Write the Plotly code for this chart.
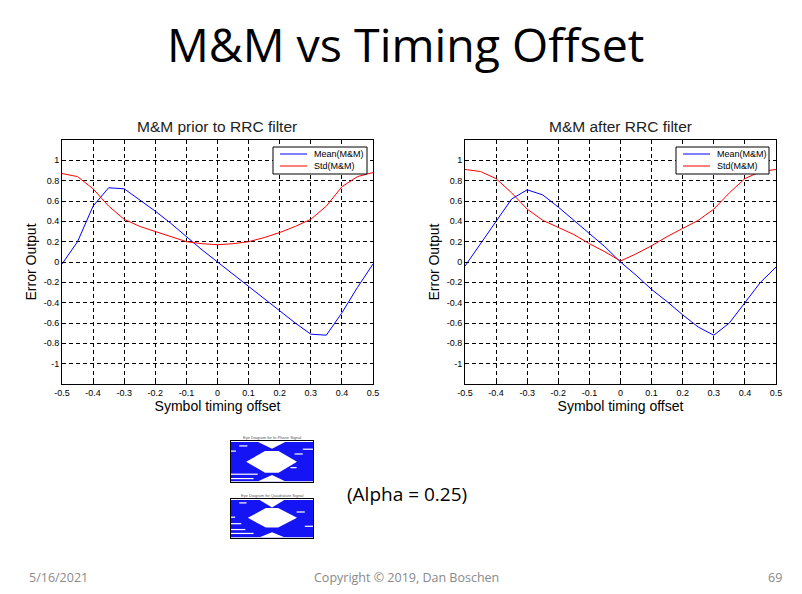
import plotly.graph_objects as go

W, H = 802, 594

# ---------------- data ----------------
offset = [-0.5, -0.45, -0.4, -0.35, -0.3, -0.25, -0.2, -0.15, -0.1, -0.05, 0.0,
          0.05, 0.1, 0.15, 0.2, 0.25, 0.3, 0.35, 0.4, 0.45, 0.5]

mean_prior = [-0.02, 0.2, 0.55, 0.73, 0.72, 0.61, 0.5, 0.38, 0.25, 0.12, 0.0,
              -0.12, -0.24, -0.36, -0.48, -0.6, -0.71, -0.72, -0.5, -0.25, -0.02]
std_prior = [0.87, 0.84, 0.72, 0.55, 0.42, 0.35, 0.3, 0.25, 0.2, 0.18, 0.17,
             0.18, 0.2, 0.24, 0.29, 0.35, 0.42, 0.55, 0.74, 0.84, 0.88]

mean_after = [-0.04, 0.18, 0.4, 0.62, 0.71, 0.66, 0.54, 0.41, 0.28, 0.15, 0.0,
              -0.13, -0.27, -0.39, -0.52, -0.64, -0.72, -0.6, -0.4, -0.2, -0.05]
std_after = [0.91, 0.89, 0.82, 0.68, 0.52, 0.41, 0.34, 0.27, 0.18, 0.1, 0.01,
             0.08, 0.16, 0.25, 0.33, 0.41, 0.52, 0.68, 0.82, 0.89, 0.91]

series_names = ["Mean(M&M)", "Std(M&M)"]

x_ticks = [-0.5, -0.4, -0.3, -0.2, -0.1, 0, 0.1, 0.2, 0.3, 0.4, 0.5]
x_tick_labels = ["-0.5", "-0.4", "-0.3", "-0.2", "-0.1", "0", "0.1", "0.2", "0.3", "0.4", "0.5"]
y_ticks = [-1, -0.8, -0.6, -0.4, -0.2, 0, 0.2, 0.4, 0.6, 0.8, 1]
y_tick_labels = ["-1", "-0.8", "-0.6", "-0.4", "-0.2", "0", "0.2", "0.4", "0.6", "0.8", "1"]

# eye diagram outlines (time -1..1, amplitude -1.5..1.5)
eye_box_x = [-1, 1, 1, -1, -1]
eye_box_y = [-1.45, -1.45, 1.42, 1.42, -1.45]
eye1_open_x = [-0.63, -0.17, 0.16, 0.61, 0.16, -0.17, -0.63]
eye1_open_y = [-0.01, 0.76, 0.76, -0.01, -0.83, -0.83, -0.01]
eye1_top_x = [-0.34, 0.32, 0.0, -0.34]
eye1_top_y = [1.42, 1.42, 0.94, 1.42]
eye1_bot_x = [-0.34, 0.32, 0.0, -0.34]
eye1_bot_y = [-1.45, -1.45, -0.99, -1.45]
eye1_gap_x0 = [-0.8, -1.0, -1.0, -1.0, 0.55, 0.75, 0.45]
eye1_gap_x1 = [-0.6, -0.88, -0.35, -0.45, 0.75, 1.0, 0.6]
eye1_gap_y = [1.14, 0.76, -0.93, -1.25, 0.55, 0.9, -0.45]

eye2_open_x = [-0.59, -0.15, 0.15, 0.61, 0.15, -0.15, -0.59]
eye2_open_y = [0.05, 0.8, 0.8, 0.05, -0.7, -0.7, 0.05]
eye2_top_x = [-0.3, 0.3, 0.0, -0.3]
eye2_top_y = [1.42, 1.42, 0.85, 1.42]
eye2_bot_x = [-0.3, 0.3, 0.0, -0.3]
eye2_bot_y = [-1.45, -1.45, -1.05, -1.45]
eye2_gap_x0 = [-0.8, -1.0, -1.0, -1.0, -1.0, 0.6, 0.8]
eye2_gap_x1 = [-0.62, -0.9, -0.75, -0.65, -0.45, 0.8, 1.0]
eye2_gap_y = [1.2, 0.1, -0.4, -0.85, -1.15, 0.5, -0.6]

BLUE = "#0000FF"
RED = "#FF0000"
EYE_BLUE = "#1414F5"

fig = go.Figure()

# main plots
for xa, ya, m, s in [("x", "y", mean_prior, std_prior), ("x2", "y2", mean_after, std_after)]:
    fig.add_trace(go.Scatter(x=offset, y=m, mode="lines", name=series_names[0],
                             line=dict(color=BLUE, width=1), xaxis=xa, yaxis=ya, showlegend=False))
    fig.add_trace(go.Scatter(x=offset, y=s, mode="lines", name=series_names[1],
                             line=dict(color=RED, width=1), xaxis=xa, yaxis=ya, showlegend=False))

# eye diagrams
for xa, ya, ox, oy, tx, ty, bx, by, gx0, gx1, gy in [
    ("x3", "y3", eye1_open_x, eye1_open_y, eye1_top_x, eye1_top_y, eye1_bot_x, eye1_bot_y,
     eye1_gap_x0, eye1_gap_x1, eye1_gap_y),
    ("x4", "y4", eye2_open_x, eye2_open_y, eye2_top_x, eye2_top_y, eye2_bot_x, eye2_bot_y,
     eye2_gap_x0, eye2_gap_x1, eye2_gap_y),
]:
    fig.add_trace(go.Scatter(x=eye_box_x, y=eye_box_y, fill="toself", fillcolor=EYE_BLUE,
                             mode="lines", line=dict(width=0, color=EYE_BLUE),
                             xaxis=xa, yaxis=ya, showlegend=False, hoverinfo="skip"))
    for px, py in [(ox, oy), (tx, ty), (bx, by)]:
        fig.add_trace(go.Scatter(x=px, y=py, fill="toself", fillcolor="white",
                                 mode="lines", line=dict(width=0, color="white"),
                                 xaxis=xa, yaxis=ya, showlegend=False, hoverinfo="skip"))
    segx, segy = [], []
    for a, b, c in zip(gx0, gx1, gy):
        segx += [a, b, None]
        segy += [c, c, None]
    fig.add_trace(go.Scatter(x=segx, y=segy, mode="lines", line=dict(width=1.2, color="white"),
                             xaxis=xa, yaxis=ya, showlegend=False, hoverinfo="skip"))


def px2x(p):
    return p / W


def px2y(p):
    return 1 - p / H


main_axis_common = dict(
    showline=True, linecolor="black", linewidth=1, mirror=True,
    ticks="inside", ticklen=4, tickcolor="black",
    showgrid=True, gridcolor="black", gridwidth=1, griddash="4px,3px",
    zeroline=False, tickfont=dict(family="Arial", size=9, color="black"),
    fixedrange=True, automargin=False,
)

xcommon = dict(main_axis_common, range=[-0.5, 0.5], tickmode="array",
               tickvals=x_ticks, ticktext=x_tick_labels,
               title=dict(text="Symbol timing offset",
                          font=dict(family="Arial", size=14, color="black"), standoff=2))
ycommon = dict(main_axis_common, range=[-1.2, 1.2], tickmode="array",
               tickvals=y_ticks, ticktext=y_tick_labels,
               title=dict(text="Error Output",
                          font=dict(family="Arial", size=14, color="black"), standoff=3))

yd = [px2y(384), px2y(140)]

eye_axis = dict(showline=True, linecolor="black", linewidth=1, mirror=True,
                showgrid=False, zeroline=False, showticklabels=False,
                ticks="", fixedrange=True, automargin=False)

fig.update_layout(
    width=W, height=H,
    margin=dict(l=0, r=0, t=0, b=0, pad=0, autoexpand=False),
    paper_bgcolor="white", plot_bgcolor="white",
    xaxis=dict(xcommon, domain=[px2x(62), px2x(373)], anchor="y"),
    yaxis=dict(ycommon, domain=yd, anchor="x"),
    xaxis2=dict(xcommon, domain=[px2x(465), px2x(776)], anchor="y2"),
    yaxis2=dict(ycommon, domain=yd, anchor="x2"),
    xaxis3=dict(eye_axis, domain=[px2x(231), px2x(313)], anchor="y3", range=[-1, 1]),
    yaxis3=dict(eye_axis, domain=[px2y(482), px2y(441)], anchor="x3", range=[-1.5, 1.5]),
    xaxis4=dict(eye_axis, domain=[px2x(231), px2x(313)], anchor="y4", range=[-1, 1]),
    yaxis4=dict(eye_axis, domain=[px2y(538), px2y(499)], anchor="x4", range=[-1.5, 1.5]),
    showlegend=False,
)

# manual legends (box + sample lines) in paper coordinates
shapes = []
annotations = []
for bx0, bx1 in [(273, 367), (676, 769)]:
    shapes.append(dict(type="rect", xref="paper", yref="paper",
                       x0=px2x(bx0), x1=px2x(bx1), y0=px2y(174), y1=px2y(147),
                       line=dict(color="black", width=1), fillcolor="white", layer="above"))
    for row_y, col, name in [(154, BLUE, series_names[0]), (166, RED, series_names[1])]:
        shapes.append(dict(type="line", xref="paper", yref="paper",
                           x0=px2x(bx0 + 7), x1=px2x(bx0 + 34), y0=px2y(row_y), y1=px2y(row_y),
                           line=dict(color=col, width=1), layer="above"))
        annotations.append(dict(text=name, x=px2x(bx0 + 39), y=px2y(row_y), xref="paper", yref="paper",
                                showarrow=False, xanchor="left", yanchor="middle",
                                font=dict(family="Arial", size=9, color="black")))

ann = [
    dict(text="M&M vs Timing Offset", x=px2x(405), y=px2y(44), font=dict(family="Open Sans", size=46.5, color="black")),
    dict(text="M&M prior to RRC filter", x=px2x(217), y=px2y(126), font=dict(family="Arial", size=15.5, color="#222222")),
    dict(text="M&M after RRC filter", x=px2x(620), y=px2y(126), font=dict(family="Arial", size=15.5, color="#222222")),
    dict(text="(Alpha = 0.25)", x=px2x(407), y=px2y(494), font=dict(family="Open Sans", size=19, color="black")),
    dict(text="Copyright © 2019, Dan Boschen", x=px2x(406), y=px2y(577), font=dict(family="Open Sans", size=12.5, color="#898989")),
    dict(text="Eye Diagram for In-Phase Signal", x=px2x(272), y=px2y(437), font=dict(family="Arial", size=4, color="#555555")),
    dict(text="Eye Diagram for Quadrature Signal", x=px2x(272), y=px2y(495), font=dict(family="Arial", size=4, color="#555555")),
]
for a in ann:
    annotations.append(dict(a, xref="paper", yref="paper", showarrow=False, xanchor="center", yanchor="middle"))
annotations.append(dict(text="5/16/2021", x=px2x(27), y=px2y(577), xref="paper", yref="paper", showarrow=False,
                        xanchor="left", yanchor="middle", font=dict(family="Open Sans", size=12.5, color="#898989")))
annotations.append(dict(text="69", x=px2x(784), y=px2y(577), xref="paper", yref="paper", showarrow=False,
                        xanchor="right", yanchor="middle", font=dict(family="Open Sans", size=12.5, color="#898989")))
fig.update_layout(annotations=annotations, shapes=shapes)

fig.write_html("out.html", config={"displayModeBar": False},
               post_script="document.body.style.margin='0';document.body.style.overflow='hidden';")
